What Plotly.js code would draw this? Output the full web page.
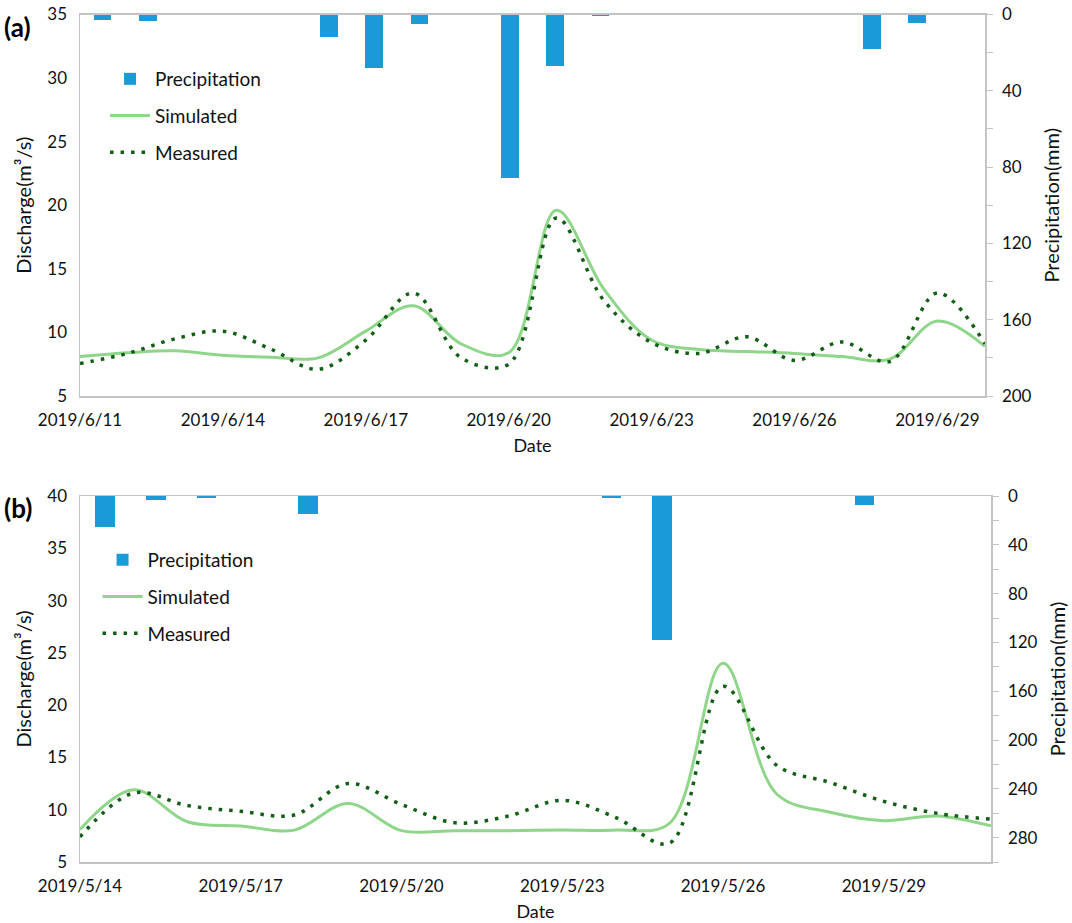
<!DOCTYPE html>
<html>
<head>
    <title>Discharge and Precipitation</title>
    <style>
        html, body, #plot {
            height: 100%;
            width: 100%;
            margin: 0;
            padding: 0;
            overflow: hidden;
            background: #ffffff;
        }
    </style>
    <script src="https://cdn.plot.ly/plotly-3.0.1.min.js"></script>
</head>

<body>
<div id="plot"></div>
<script>
    // (a) June 2019 event
    const datesA = ['2019-06-11', '2019-06-12', '2019-06-13', '2019-06-14', '2019-06-15',
        '2019-06-16', '2019-06-17', '2019-06-18', '2019-06-19', '2019-06-20',
        '2019-06-21', '2019-06-22', '2019-06-23', '2019-06-24', '2019-06-25',
        '2019-06-26', '2019-06-27', '2019-06-28', '2019-06-29', '2019-06-30'];
    const precipA = [2.7, 3.2, 0, 0, 0, 11.6, 27.8, 4.8, 0, 85.6,
        27.0, 1.0, 0, 0, 0, 0, 0, 18.1, 4.7, 0];
    const simulatedA = [8.1, 8.4, 8.55, 8.2, 8.05, 8.0, 10.1, 12.1, 9.1, 8.4,
        19.6, 13.4, 9.4, 8.65, 8.5, 8.35, 8.1, 7.9, 10.9, 8.9];
    const measuredA = [7.55, 8.35, 9.5, 10.1, 8.7, 7.1, 9.4, 13.1, 8.0, 7.5,
        19.0, 12.5, 9.2, 8.35, 9.65, 7.8, 9.25, 7.7, 13.1, 9.1];

    // (b) May 2019 event
    const datesB = ['2019-05-14', '2019-05-15', '2019-05-16', '2019-05-17', '2019-05-18',
        '2019-05-19', '2019-05-20', '2019-05-21', '2019-05-22', '2019-05-23',
        '2019-05-24', '2019-05-25', '2019-05-26', '2019-05-27', '2019-05-28',
        '2019-05-29', '2019-05-30', '2019-05-31'];
    const precipB = [25.4, 3.0, 2.0, 0, 15.0, 0, 0, 0, 0, 0,
        1.3, 118.0, 0, 0, 0, 7.1, 0.3, 0];
    const simulatedB = [8.1, 11.9, 8.85, 8.45, 8.05, 10.6, 8.0, 8.0, 8.0, 8.05,
        8.05, 8.7, 24.0, 11.5, 9.75, 8.95, 9.4, 8.45];
    const measuredB = [7.4, 11.6, 10.4, 9.85, 9.5, 12.5, 10.5, 8.75, 9.4, 10.9,
        9.25, 6.8, 21.8, 14.25, 12.6, 10.8, 9.65, 9.1];

    const FONT = 'Lato, "Open Sans", sans-serif';
    const AXIS_GREY = '#c4c4c4';
    const BAR_BLUE = '#1a9ad6';
    const SIM_GREEN = '#8fd68a';
    const MEAS_GREEN = '#135e17';

    function makeTraces(dates, precip, sim, meas, xLine, yLine, xBar, yBar, legendId) {
        return [
            {
                x: dates, y: precip, type: 'bar', name: 'Precipitation',
                xaxis: xBar, yaxis: yBar, width: 0.39,
                marker: {color: BAR_BLUE},
                legend: legendId, legendgroup: legendId + 'p'
            },
            {
                x: dates, y: sim, type: 'scatter', mode: 'lines', name: 'Simulated',
                xaxis: xLine, yaxis: yLine,
                line: {color: SIM_GREEN, width: 3, shape: 'spline', smoothing: 1},
                legend: legendId, legendgroup: legendId + 's'
            },
            {
                x: dates, y: meas, type: 'scatter', mode: 'lines', name: 'Measured',
                xaxis: xLine, yaxis: yLine,
                line: {color: MEAS_GREEN, width: 3.5, dash: '3.5px,7px', shape: 'spline', smoothing: 1},
                legend: legendId, legendgroup: legendId + 'm'
            }
        ];
    }

    function dateAxis(domain, anchor, first, last, tick0) {
        return {
            type: 'date', domain: domain, anchor: anchor,
            range: [first, last],
            tick0: tick0, dtick: 3 * 86400000, tickformat: '%Y/%-m/%-d',
            showline: true, linecolor: AXIS_GREY, linewidth: 1.5,
            showgrid: false, zeroline: false,
            ticks: 'outside', ticklen: 8, tickcolor: 'rgba(0,0,0,0)',
            tickfont: {family: FONT, size: 17, color: '#111'},
            title: {text: 'Date', standoff: 10, font: {family: FONT, size: 18, color: '#111'}}
        };
    }

    function barAxis(overlay, anchor, n) {
        return {
            type: 'category', overlaying: overlay, anchor: anchor, side: 'top',
            range: [-0.5, n - 0.5],
            showline: true, linecolor: AXIS_GREY, linewidth: 1.5,
            showticklabels: false, showgrid: false, zeroline: false, ticks: ''
        };
    }

    function dischargeAxis(domain, anchor, range) {
        return {
            domain: domain, anchor: anchor, range: range, dtick: 5,
            showline: true, linecolor: AXIS_GREY, linewidth: 1.5,
            showgrid: false, zeroline: false,
            ticks: 'outside', ticklen: 8, tickcolor: 'rgba(0,0,0,0)',
            tickfont: {family: FONT, size: 17, color: '#111'},
            title: {text: 'Discharge(m³/s)', standoff: 10, font: {family: FONT, size: 20, color: '#111'}}
        };
    }

    function precipAxis(overlay, anchor, maxVal) {
        return {
            overlaying: overlay, anchor: anchor, side: 'right',
            range: [maxVal, 0], dtick: 40,
            showline: true, linecolor: AXIS_GREY, linewidth: 1.5,
            showgrid: false, zeroline: false,
            ticks: 'outside', ticklen: 6, tickcolor: AXIS_GREY, ticklabelstandoff: 6,
            minor: {dtick: 20, ticks: 'outside', ticklen: 6, tickcolor: AXIS_GREY},
            tickfont: {family: FONT, size: 17, color: '#111'},
            title: {text: 'Precipitation(mm)', standoff: 14, font: {family: FONT, size: 20, color: '#111'}}
        };
    }

    const domX_A = [80 / 1072, 985 / 1072];
    const domX_B = [80 / 1072, 991 / 1072];
    const domY_A = [1 - 396 / 923, 1 - 14.5 / 923];
    const domY_B = [1 - 862 / 923, 1 - 496 / 923];

    const data = [].concat(
        makeTraces(datesA, precipA, simulatedA, measuredA, 'x', 'y', 'x3', 'y2', 'legend'),
        makeTraces(datesB, precipB, simulatedB, measuredB, 'x2', 'y3', 'x4', 'y4', 'legend2')
    );

    const legendStyle = {
        font: {family: FONT, size: 19, color: '#111'},
        bgcolor: 'rgba(0,0,0,0)',
        traceorder: 'grouped',
        tracegroupgap: 9,
        itemwidth: 40,
        xanchor: 'left', yanchor: 'top'
    };

    const layout = {
        width: 1072,
        height: 923,
        margin: {l: 0, r: 0, t: 0, b: 0, pad: 0},
        paper_bgcolor: '#ffffff',
        plot_bgcolor: '#ffffff',
        font: {family: FONT, color: '#111'},
        bargap: 0,
        xaxis: dateAxis(domX_A, 'y', '2019-06-11', '2019-06-30', '2019-06-11'),
        yaxis: dischargeAxis(domY_A, 'x', [5, 35]),
        xaxis3: barAxis('x', 'y2', datesA.length),
        yaxis2: precipAxis('y', 'x3', 200),
        xaxis2: dateAxis(domX_B, 'y3', '2019-05-14', '2019-05-31', '2019-05-14'),
        yaxis3: dischargeAxis(domY_B, 'x2', [5, 40]),
        xaxis4: barAxis('x2', 'y4', datesB.length),
        yaxis4: precipAxis('y3', 'x4', 300),
        legend: Object.assign({x: 0.098, y: 1 - 60 / 923}, legendStyle),
        legend2: Object.assign({x: 0.091, y: 1 - 541 / 923}, legendStyle),
        showlegend: true,
        annotations: [
            {text: '<b>(a)</b>', xref: 'paper', yref: 'paper', x: 0.002, y: 1 - 27 / 923,
                xanchor: 'left', yanchor: 'middle', showarrow: false,
                font: {family: FONT, size: 26, color: '#000'}},
            {text: '<b>(b)</b>', xref: 'paper', yref: 'paper', x: 0.002, y: 1 - 508 / 923,
                xanchor: 'left', yanchor: 'middle', showarrow: false,
                font: {family: FONT, size: 26, color: '#000'}}
        ]
    };

    const config = {displayModeBar: false, staticPlot: true};

    Plotly.newPlot('plot', data, layout, config);
</script>
</body>
</html>
